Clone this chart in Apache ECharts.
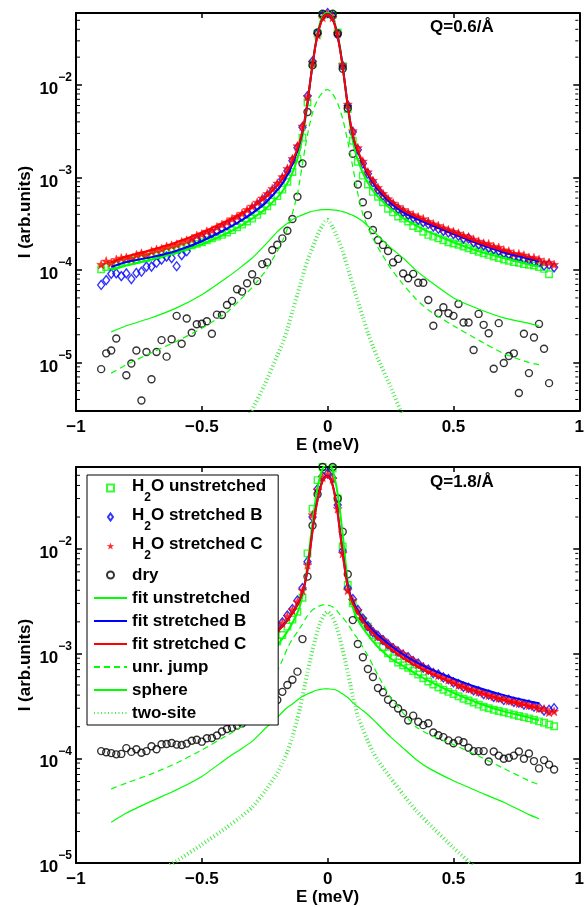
<!DOCTYPE html>
<html><head><meta charset="utf-8">
<script src="https://cdn.jsdelivr.net/npm/echarts@6/dist/echarts.min.js"></script>
<style>html,body{margin:0;padding:0;background:#fff}#c{width:587px;height:907px}</style>
</head><body><div id="c"></div><script>
// ---------- data ----------
const E = [-0.90,-0.88,-0.86,-0.84,-0.82,-0.80,-0.78,-0.76,-0.74,-0.72,-0.70,-0.68,-0.66,-0.64,-0.62,-0.60,-0.58,-0.56,-0.54,-0.52,
-0.50,-0.48,-0.46,-0.44,-0.42,-0.40,-0.38,-0.36,-0.34,-0.32,-0.30,-0.28,-0.26,-0.24,-0.22,-0.20,-0.18,-0.16,-0.14,-0.12,
-0.10,-0.08,-0.06,-0.04,-0.02,0.00,0.02,0.04,0.06,0.08,0.10,0.12,0.14,0.16,0.18,0.20,0.22,0.24,0.26,0.28,
0.30,0.32,0.34,0.36,0.38,0.40,0.42,0.44,0.46,0.48,0.50,0.52,0.54,0.56,0.58,0.60,0.62,0.64,0.66,0.68,
0.70,0.72,0.74,0.76,0.78,0.80,0.82,0.84,0.86,0.88,0.90];

// Q = 0.6 panel
const topDry = [8.5e-6,1.26e-5,1.35e-5,1.82e-5,2.6e-6,7.3e-6,9.8e-6,1.35e-5,3.9e-6,1.3e-5,
6.6e-6,1.3e-5,1.75e-5,1.16e-5,1.79e-5,3.2e-5,1.6e-5,3.0e-5,2.1e-5,2.6e-5,
2.63e-5,2.8e-5,2.05e-5,3.3e-5,3.27e-5,4.2e-5,4.65e-5,6.2e-5,5.85e-5,7.2e-5,
9.0e-5,7.6e-5,1.16e-4,1.21e-4,1.65e-4,1.88e-4,2.2e-4,2.66e-4,3.56e-4,6.2e-4,
1.42e-3,5.1e-3,1.63e-2,3.7e-2,5.9e-2,8.0e-2,5.9e-2,3.6e-2,1.5e-2,5.6e-3,
1.81e-3,8.4e-4,5.4e-4,3.93e-4,2.71e-4,2.11e-4,1.87e-4,1.61e-4,1.21e-4,1.32e-4,
9.2e-5,8.15e-5,9.1e-5,7.3e-5,7.3e-5,4.75e-5,2.5e-5,3.42e-5,3.97e-5,3.42e-5,
3.2e-5,4.3e-5,2.71e-5,2.71e-5,1.37e-5,3.36e-5,2.56e-5,2.08e-5,8.6e-6,2.67e-5,
9.9e-6,1.18e-5,1.26e-5,4.7e-6,2.05e-5,7.7e-6,1.87e-5,2.62e-5,1.41e-5,6.0e-6,
null];
const topC = [1.15e-4,1.25e-4,1.2e-4,1.3e-4,1.35e-4,1.37e-4,1.33e-4,1.46e-4,1.52e-4,1.47e-4,
1.6e-4,1.67e-4,1.7e-4,1.8e-4,1.85e-4,1.9e-4,2.02e-4,2.1e-4,2.18e-4,2.36e-4,
2.45e-4,2.62e-4,2.7e-4,2.92e-4,3.1e-4,3.3e-4,3.58e-4,3.8e-4,4.1e-4,4.5e-4,
4.9e-4,5.4e-4,6.0e-4,6.7e-4,7.6e-4,8.7e-4,1.02e-3,1.25e-3,1.6e-3,2.2e-3,
3.6e-3,7.5e-3,1.75e-2,3.5e-2,5.4e-2,5.9e-2,5.4e-2,3.6e-2,1.65e-2,6.2e-3,
3.2e-3,2.1e-3,1.5e-3,1.15e-3,9.3e-4,7.8e-4,6.7e-4,5.9e-4,5.3e-4,4.85e-4,
4.5e-4,4.2e-4,3.95e-4,3.75e-4,3.58e-4,3.35e-4,3.15e-4,3.02e-4,2.85e-4,2.72e-4,
2.6e-4,2.5e-4,2.36e-4,2.28e-4,2.15e-4,2.05e-4,1.95e-4,1.92e-4,1.8e-4,1.76e-4,
1.65e-4,1.6e-4,1.5e-4,1.5e-4,1.45e-4,1.37e-4,1.36e-4,1.3e-4,1.22e-4,1.21e-4,
1.15e-4];
const topB = [6.9e-5,7.8e-5,9.1e-5,9.2e-5,8.6e-5,9.2e-5,8.0e-5,9.3e-5,9.6e-5,1.09e-4,
1.09e-4,1.2e-4,1.3e-4,1.4e-4,1.35e-4,1.1e-4,1.45e-4,1.6e-4,1.95e-4,2.15e-4,
2.25e-4,2.4e-4,2.5e-4,2.65e-4,2.85e-4,3.05e-4,3.3e-4,3.5e-4,3.8e-4,4.15e-4,
4.55e-4,5.0e-4,5.6e-4,6.3e-4,7.1e-4,8.2e-4,9.6e-4,1.18e-3,1.52e-3,2.1e-3,
3.5e-3,7.6e-3,1.8e-2,3.6e-2,5.6e-2,6.0e-2,5.5e-2,3.5e-2,1.6e-2,6.0e-3,
3.1e-3,2.0e-3,1.42e-3,1.1e-3,8.9e-4,7.4e-4,6.4e-4,5.6e-4,5.05e-4,4.6e-4,
4.25e-4,3.95e-4,3.7e-4,3.5e-4,3.3e-4,3.15e-4,2.95e-4,2.8e-4,2.65e-4,2.55e-4,
2.45e-4,2.35e-4,2.2e-4,2.2e-4,2.0e-4,1.9e-4,1.85e-4,1.75e-4,1.68e-4,1.62e-4,
1.52e-4,1.48e-4,1.4e-4,1.38e-4,1.32e-4,1.3e-4,1.24e-4,1.22e-4,1.12e-4,1.15e-4,
1.07e-4];
const topU = [1.02e-4,1.08e-4,1.12e-4,1.15e-4,1.2e-4,1.22e-4,1.25e-4,1.3e-4,1.32e-4,1.35e-4,
1.4e-4,1.43e-4,1.48e-4,1.55e-4,1.6e-4,1.65e-4,1.72e-4,1.78e-4,1.85e-4,1.92e-4,
2.0e-4,2.1e-4,2.2e-4,2.3e-4,2.4e-4,2.55e-4,2.7e-4,2.9e-4,3.1e-4,3.35e-4,
3.6e-4,3.95e-4,4.4e-4,4.9e-4,5.5e-4,6.3e-4,7.4e-4,9.0e-4,1.15e-3,1.6e-3,
2.7e-3,6.5e-3,1.7e-2,3.6e-2,5.7e-2,6.2e-2,5.7e-2,3.7e-2,1.6e-2,5.5e-3,
2.5e-3,1.48e-3,1.05e-3,8.4e-4,7.0e-4,6.2e-4,5.4e-4,4.6e-4,4.2e-4,3.8e-4,
3.6e-4,3.35e-4,3.0e-4,2.85e-4,2.6e-4,2.4e-4,2.3e-4,2.2e-4,2.1e-4,2.0e-4,
1.94e-4,1.88e-4,1.8e-4,1.72e-4,1.65e-4,1.58e-4,1.52e-4,1.46e-4,1.4e-4,1.35e-4,
1.3e-4,1.26e-4,1.22e-4,1.2e-4,1.16e-4,1.14e-4,1.12e-4,1.08e-4,1.03e-4,9.0e-5,
null];

// Q = 1.8 panel
const botDry = [1.17e-4,1.14e-4,1.12e-4,1.09e-4,1.1e-4,1.25e-4,1.15e-4,1.22e-4,1.13e-4,1.17e-4,
1.3e-4,1.22e-4,1.36e-4,1.37e-4,1.4e-4,1.35e-4,1.34e-4,1.38e-4,1.47e-4,1.5e-4,
1.44e-4,1.55e-4,1.56e-4,1.65e-4,1.8e-4,1.9e-4,1.95e-4,2.05e-4,2.15e-4,2.3e-4,
2.4e-4,2.45e-4,2.5e-4,2.7e-4,3.1e-4,3.6e-4,4.3e-4,5.0e-4,5.6e-4,6.7e-4,
1.37e-3,5.4e-3,1.66e-2,3.3e-2,6.0e-2,8.0e-2,6.0e-2,3.0e-2,1.45e-2,5.7e-3,
2.08e-3,1.23e-3,9.2e-4,7.1e-4,5.95e-4,4.68e-4,4.26e-4,3.62e-4,3.3e-4,2.98e-4,
2.69e-4,2.29e-4,2.55e-4,2.23e-4,2.07e-4,2.16e-4,1.76e-4,1.66e-4,1.59e-4,1.48e-4,
1.39e-4,1.48e-4,1.42e-4,1.26e-4,1.17e-4,1.17e-4,1.17e-4,9.3e-5,1.16e-4,1.06e-4,
9.9e-5,1.01e-4,1.06e-4,1.16e-4,9.9e-5,1.11e-4,9.4e-5,8.0e-5,9.6e-5,8.7e-5,
7.8e-5];
const botC = [3.3e-4,3.35e-4,3.45e-4,3.5e-4,3.6e-4,3.7e-4,3.8e-4,3.9e-4,4.0e-4,4.1e-4,
4.25e-4,4.4e-4,4.5e-4,4.65e-4,4.8e-4,5.0e-4,5.2e-4,5.4e-4,5.6e-4,5.9e-4,
6.2e-4,6.5e-4,6.9e-4,7.3e-4,7.8e-4,8.3e-4,9.0e-4,9.6e-4,1.03e-3,1.1e-3,
1.18e-3,1.27e-3,1.37e-3,1.48e-3,1.6e-3,1.75e-3,1.95e-3,2.25e-3,2.6e-3,3.1e-3,
4.0e-3,7.0e-3,2.1e-2,3.6e-2,4.8e-2,5.1e-2,4.6e-2,2.4e-2,9.0e-3,4.0e-3,
3.2e-3,2.55e-3,2.12e-3,1.8e-3,1.62e-3,1.45e-3,1.35e-3,1.22e-3,1.14e-3,1.05e-3,
9.9e-4,9.1e-4,8.6e-4,7.9e-4,7.5e-4,6.9e-4,6.6e-4,6.2e-4,5.95e-4,5.6e-4,
5.35e-4,5.0e-4,4.85e-4,4.6e-4,4.5e-4,4.3e-4,4.2e-4,4.0e-4,3.9e-4,3.75e-4,
3.7e-4,3.55e-4,3.5e-4,3.35e-4,3.35e-4,3.2e-4,3.15e-4,3.0e-4,2.95e-4,2.75e-4,
2.8e-4];
const botB = [3.4e-4,3.45e-4,3.5e-4,3.6e-4,3.7e-4,3.8e-4,3.9e-4,4.0e-4,4.1e-4,4.2e-4,
4.35e-4,4.5e-4,4.6e-4,4.75e-4,4.9e-4,5.1e-4,5.3e-4,5.5e-4,5.7e-4,6.0e-4,
6.3e-4,6.6e-4,7.0e-4,7.4e-4,7.9e-4,8.4e-4,9.1e-4,9.7e-4,1.04e-3,1.12e-3,
1.2e-3,1.29e-3,1.39e-3,1.5e-3,1.62e-3,1.78e-3,1.98e-3,2.3e-3,2.65e-3,3.2e-3,
4.2e-3,7.5e-3,2.0e-2,3.7e-2,4.9e-2,5.2e-2,4.7e-2,2.6e-2,9.5e-3,4.2e-3,
3.3e-3,2.6e-3,2.15e-3,1.82e-3,1.6e-3,1.47e-3,1.34e-3,1.22e-3,1.12e-3,1.04e-3,
9.7e-4,9.2e-4,8.4e-4,8.0e-4,7.3e-4,7.0e-4,6.5e-4,6.3e-4,5.9e-4,5.7e-4,
5.3e-4,5.1e-4,4.8e-4,4.7e-4,4.45e-4,4.35e-4,4.1e-4,4.05e-4,3.85e-4,3.8e-4,
3.6e-4,3.6e-4,3.45e-4,3.4e-4,3.25e-4,3.25e-4,3.1e-4,3.05e-4,2.85e-4,2.9e-4,
3.0e-4];
const botU = [2.6e-4,2.65e-4,2.7e-4,2.75e-4,2.8e-4,2.85e-4,2.9e-4,2.95e-4,3.0e-4,3.1e-4,
3.2e-4,3.3e-4,3.4e-4,3.5e-4,3.6e-4,3.7e-4,3.85e-4,4.0e-4,4.15e-4,4.3e-4,
4.5e-4,4.7e-4,4.95e-4,5.2e-4,5.5e-4,5.8e-4,6.1e-4,6.5e-4,6.9e-4,7.4e-4,
7.9e-4,8.5e-4,9.2e-4,1.0e-3,1.15e-3,1.3e-3,1.5e-3,1.8e-3,2.1e-3,2.5e-3,
3.4e-3,9.0e-3,2.4e-2,4.5e-2,6.0e-2,6.5e-2,5.8e-2,3.0e-2,1.05e-2,4.5e-3,
3.0e-3,2.35e-3,2.05e-3,1.8e-3,1.5e-3,1.35e-3,1.15e-3,1.0e-3,9.0e-4,8.2e-4,
7.7e-4,7.3e-4,6.8e-4,6.3e-4,5.8e-4,5.4e-4,5.05e-4,4.75e-4,4.5e-4,4.3e-4,
4.1e-4,3.9e-4,3.7e-4,3.55e-4,3.4e-4,3.25e-4,3.1e-4,3.0e-4,2.9e-4,2.82e-4,
2.75e-4,2.68e-4,2.6e-4,2.53e-4,2.47e-4,2.4e-4,2.33e-4,2.25e-4,2.18e-4,2.1e-4,
2.02e-4];

// model curves
const fE = [-0.86,-0.8,-0.7,-0.6,-0.5,-0.4,-0.35,-0.3,-0.25,-0.2,
-0.18,-0.16,-0.14,-0.12,-0.11,-0.1,-0.09,-0.08,-0.07,-0.06,
-0.05,-0.04,-0.03,-0.02,-0.01,0,0.01,0.02,0.03,0.04,
0.05,0.06,0.07,0.08,0.09,0.1,0.11,0.12,0.14,0.16,
0.18,0.2,0.25,0.3,0.35,0.4,0.5,0.6,0.7,0.8,0.84];

const topFitU = [1.0e-4,1.12e-4,1.3e-4,1.55e-4,1.9e-4,2.5e-4,2.95e-4,3.6e-4,4.5e-4,6.1e-4,
7.1e-4,8.7e-4,1.12e-3,1.6e-3,2.05e-3,2.75e-3,4.0e-3,6.2e-3,1.04e-2,1.68e-2,
2.6e-2,3.65e-2,4.7e-2,5.5e-2,5.95e-2,6.05e-2,5.9e-2,5.3e-2,4.5e-2,3.45e-2,
2.45e-2,1.58e-2,9.5e-3,5.7e-3,3.6e-3,2.5e-3,1.9e-3,1.55e-3,1.12e-3,8.8e-4,
7.2e-4,6.2e-4,4.6e-4,3.65e-4,3.05e-4,2.6e-4,2.0e-4,1.6e-4,1.35e-4,1.15e-4,1.1e-4];
const topFitB = [1.08e-4,1.22e-4,1.38e-4,1.62e-4,2.05e-4,2.8e-4,3.35e-4,4.1e-4,5.2e-4,7.3e-4,
8.6e-4,1.07e-3,1.4e-3,1.95e-3,2.4e-3,3.1e-3,4.3e-3,6.4e-3,1.05e-2,1.66e-2,
2.52e-2,3.48e-2,4.45e-2,5.25e-2,5.75e-2,5.85e-2,5.7e-2,5.15e-2,4.35e-2,3.35e-2,
2.4e-2,1.58e-2,9.7e-3,6.0e-3,3.95e-3,2.85e-3,2.25e-3,1.9e-3,1.4e-3,1.08e-3,
8.8e-4,7.4e-4,5.3e-4,4.2e-4,3.6e-4,3.15e-4,2.45e-4,1.92e-4,1.55e-4,1.32e-4,1.24e-4];
const topFitC = [1.22e-4,1.4e-4,1.65e-4,2.0e-4,2.55e-4,3.4e-4,4.0e-4,4.8e-4,6.0e-4,8.2e-4,
9.6e-4,1.17e-3,1.5e-3,2.05e-3,2.5e-3,3.2e-3,4.4e-3,6.5e-3,1.05e-2,1.65e-2,
2.5e-2,3.45e-2,4.4e-2,5.2e-2,5.7e-2,5.8e-2,5.65e-2,5.1e-2,4.3e-2,3.3e-2,
2.35e-2,1.55e-2,9.6e-3,6.0e-3,4.0e-3,2.9e-3,2.3e-3,1.95e-3,1.45e-3,1.12e-3,
9.2e-4,7.8e-4,5.6e-4,4.45e-4,3.8e-4,3.3e-4,2.55e-4,2.0e-4,1.62e-4,1.38e-4,1.28e-4];
const topJump = [7.7e-6,9.5e-6,1.28e-5,1.7e-5,2.35e-5,3.5e-5,4.7e-5,6.5e-5,9.5e-5,1.6e-4,
2.05e-4,2.8e-4,4.1e-4,6.6e-4,9.5e-4,1.4e-3,2.05e-3,2.9e-3,3.9e-3,5.0e-3,
6.0e-3,6.9e-3,7.7e-3,8.3e-3,8.8e-3,8.9e-3,8.6e-3,8.0e-3,7.2e-3,6.3e-3,
5.3e-3,4.3e-3,3.3e-3,2.45e-3,1.8e-3,1.3e-3,9.3e-4,6.7e-4,4.0e-4,2.9e-4,
2.2e-4,1.75e-4,1.05e-4,7.0e-5,4.9e-5,3.7e-5,2.5e-5,1.75e-5,1.25e-5,1.0e-5,9.5e-6];
const topSphere = [2.15e-5,2.5e-5,3.05e-5,3.9e-5,5.4e-5,8.3e-5,1.05e-4,1.35e-4,1.85e-4,2.6e-4,
2.9e-4,3.2e-4,3.5e-4,3.75e-4,3.85e-4,3.95e-4,4.05e-4,4.15e-4,4.25e-4,4.32e-4,
4.38e-4,4.43e-4,4.47e-4,4.5e-4,4.5e-4,4.5e-4,4.5e-4,4.48e-4,4.45e-4,4.4e-4,
4.35e-4,4.28e-4,4.2e-4,4.1e-4,4.0e-4,3.9e-4,3.78e-4,3.65e-4,3.35e-4,3.0e-4,
2.7e-4,2.35e-4,1.75e-4,1.35e-4,1.0e-4,7.8e-5,5.0e-5,3.8e-5,3.05e-5,2.65e-5,2.5e-5];
const topTwo = [1e-8,1.5e-8,4e-8,1.2e-7,3.5e-7,1.0e-6,1.7e-6,3.1e-6,5.8e-6,1.2e-5,
1.6e-5,2.3e-5,3.6e-5,5.5e-5,6.8e-5,8.5e-5,1.05e-4,1.27e-4,1.5e-4,1.75e-4,
2.05e-4,2.4e-4,2.75e-4,3.05e-4,3.35e-4,3.5e-4,3.25e-4,2.9e-4,2.55e-4,2.2e-4,
1.9e-4,1.6e-4,1.3e-4,1.05e-4,8.5e-5,7.0e-5,5.6e-5,4.6e-5,3.1e-5,2.1e-5,
1.5e-5,1.1e-5,5.5e-6,2.6e-6,1.3e-6,6.5e-7,1.6e-7,4e-8,1e-8,3e-9,2e-9];

const botFitU = [2.6e-4,2.8e-4,3.2e-4,3.7e-4,4.5e-4,5.5e-4,6.2e-4,7.3e-4,8.9e-4,1.2e-3,
1.38e-3,1.62e-3,1.95e-3,2.45e-3,2.85e-3,3.5e-3,4.7e-3,7.0e-3,1.12e-2,1.78e-2,
2.7e-2,3.8e-2,4.9e-2,5.8e-2,6.3e-2,6.5e-2,6.3e-2,5.6e-2,4.5e-2,3.3e-2,
2.2e-2,1.35e-2,7.8e-3,4.8e-3,3.4e-3,2.75e-3,2.35e-3,2.1e-3,1.75e-3,1.5e-3,
1.3e-3,1.15e-3,9.0e-4,7.6e-4,6.4e-4,5.5e-4,4.2e-4,3.35e-4,2.8e-4,2.45e-4,2.3e-4];
const botFitB = [3.05e-4,3.35e-4,3.95e-4,4.75e-4,5.85e-4,7.6e-4,8.9e-4,1.04e-3,1.27e-3,1.62e-3,
1.82e-3,2.07e-3,2.42e-3,2.92e-3,3.3e-3,3.8e-3,4.7e-3,6.3e-3,9.6e-3,1.5e-2,
2.2e-2,2.95e-2,3.75e-2,4.45e-2,4.85e-2,4.95e-2,4.7e-2,4.05e-2,3.15e-2,2.2e-2,
1.42e-2,9.0e-3,6.1e-3,4.5e-3,3.65e-3,3.15e-3,2.8e-3,2.55e-3,2.15e-3,1.87e-3,
1.66e-3,1.5e-3,1.19e-3,9.8e-4,8.3e-4,7.25e-4,5.75e-4,4.7e-4,4.0e-4,3.5e-4,3.35e-4];
const botFitC = [3.0e-4,3.3e-4,3.9e-4,4.7e-4,5.8e-4,7.5e-4,8.8e-4,1.03e-3,1.25e-3,1.6e-3,
1.8e-3,2.05e-3,2.4e-3,2.9e-3,3.3e-3,3.8e-3,4.7e-3,6.3e-3,9.5e-3,1.48e-2,
2.15e-2,2.9e-2,3.7e-2,4.4e-2,4.8e-2,4.9e-2,4.65e-2,4.0e-2,3.1e-2,2.15e-2,
1.38e-2,8.8e-3,5.9e-3,4.3e-3,3.5e-3,3.0e-3,2.7e-3,2.45e-3,2.05e-3,1.78e-3,
1.57e-3,1.4e-3,1.1e-3,9.0e-4,7.6e-4,6.6e-4,5.2e-4,4.25e-4,3.6e-4,3.15e-4,3.0e-4];
const botJump = [5.1e-5,5.8e-5,7.1e-5,9.0e-5,1.2e-4,1.65e-4,1.95e-4,2.4e-4,3.6e-4,6.8e-4,
8.6e-4,1.12e-3,1.38e-3,1.6e-3,1.75e-3,1.9e-3,2.1e-3,2.3e-3,2.45e-3,2.6e-3,
2.7e-3,2.8e-3,2.85e-3,2.9e-3,2.9e-3,2.88e-3,2.85e-3,2.78e-3,2.7e-3,2.5e-3,
2.35e-3,2.2e-3,2.05e-3,1.9e-3,1.75e-3,1.6e-3,1.48e-3,1.38e-3,1.15e-3,9.5e-4,
7.7e-4,6.2e-4,3.8e-4,2.7e-4,2.0e-4,1.7e-4,1.35e-4,1.05e-4,8.0e-5,6.1e-5,5.6e-5];
const botSphere = [2.45e-5,3.0e-5,3.9e-5,5.0e-5,6.7e-5,1.0e-4,1.2e-4,1.45e-4,1.9e-4,2.45e-4,
2.75e-4,3.05e-4,3.3e-4,3.6e-4,3.75e-4,3.9e-4,4.0e-4,4.1e-4,4.2e-4,4.3e-4,
4.4e-4,4.48e-4,4.53e-4,4.58e-4,4.6e-4,4.6e-4,4.58e-4,4.55e-4,4.5e-4,4.4e-4,
4.25e-4,4.1e-4,3.95e-4,3.8e-4,3.6e-4,3.4e-4,3.25e-4,3.1e-4,2.85e-4,2.6e-4,
2.35e-4,2.1e-4,1.6e-4,1.25e-4,9.8e-5,8.1e-5,6.1e-5,4.8e-5,3.8e-5,2.9e-5,2.65e-5];
const botTwo = [4.8e-6,5.5e-6,7.5e-6,1.05e-5,1.5e-5,2.2e-5,2.7e-5,3.4e-5,4.8e-5,7.2e-5,
9.0e-5,1.15e-4,1.6e-4,2.4e-4,3.0e-4,3.9e-4,5.1e-4,6.6e-4,8.5e-4,1.08e-3,
1.35e-3,1.65e-3,1.95e-3,2.2e-3,2.4e-3,2.5e-3,2.4e-3,2.2e-3,1.95e-3,1.65e-3,
1.35e-3,1.08e-3,8.5e-4,6.6e-4,5.1e-4,3.9e-4,3.1e-4,2.5e-4,1.9e-4,1.45e-4,
1.15e-4,9.5e-5,6.5e-5,4.5e-5,3.2e-5,2.4e-5,1.4e-5,8.5e-6,5.5e-6,4.0e-6,3.5e-6];

// axes
const xTicks = [-1, -0.5, 0, 0.5, 1];
const topYRange = [3e-6, 0.06];
const botYRange = [1e-5, 0.06];
const topMinor = [4e-6,5e-6,6e-6,7e-6,8e-6,9e-6,2e-5,3e-5,4e-5,5e-5,6e-5,7e-5,8e-5,9e-5,
2e-4,3e-4,4e-4,5e-4,6e-4,7e-4,8e-4,9e-4,2e-3,3e-3,4e-3,5e-3,6e-3,7e-3,8e-3,9e-3,2e-2,3e-2,4e-2,5e-2];
const botMinor = [2e-5,3e-5,4e-5,5e-5,6e-5,7e-5,8e-5,9e-5,
2e-4,3e-4,4e-4,5e-4,6e-4,7e-4,8e-4,9e-4,2e-3,3e-3,4e-3,5e-3,6e-3,7e-3,8e-3,9e-3,2e-2,3e-2,4e-2,5e-2];
const names = ['H2O unstretched','H2O stretched B','H2O stretched C','dry','fit unstretched',
'fit stretched B','fit stretched C','unr. jump','sphere','two-site'];
const qLabels = ['Q=0.6/Å', 'Q=1.8/Å'];

// ---------- chart ----------
const FONT = '"Liberation Sans", Arial, Helvetica, sans-serif';
const GREEN = '#00ff00', BLUE = '#0000ff', RED = '#ff0000', DOT = '#4fe84f';
const STAR = 'path://M0,-10L2.35,-3.24L9.51,-3.09L3.8,1.24L5.88,8.09L0,4L-5.88,8.09L-3.8,1.24L-9.51,-3.09L-2.35,-3.24Z';
const SQUARE = 'path://M0,0L10,0L10,10L0,10Z';
const DIAMOND = 'path://M5,0L10,7L5,14L0,7Z';
const NONE = 'rgba(255,255,255,0)';
const grids = [{left:76, top:13, width:506, height:398}, {left:76, top:467, width:506, height:399}];

function pts(xs, ys){ const o=[]; for(let i=0;i<xs.length;i++){ if(ys[i]!=null) o.push([xs[i], ys[i]]); } return o; }
const boldTxt = {fontFamily:FONT, fontWeight:'bold', fontSize:17, color:'#000'};

function xAxes(gi){
  return [
    {type:'value', gridIndex:gi, min:xTicks[0], max:xTicks[xTicks.length-1], interval:0.5, position:'bottom',
     axisLine:{onZero:false, lineStyle:{color:'#000', width:2}},
     axisTick:{inside:true, length:5, lineStyle:{color:'#000', width:1.5}},
     axisLabel:Object.assign({margin:8, formatter:v => (v<0?'\u2212':'') + Math.abs(v)}, boldTxt),
     splitLine:{show:false},
     name:'E (meV)', nameLocation:'middle', nameGap:24, nameTextStyle:boldTxt},
    {type:'value', gridIndex:gi, min:xTicks[0], max:xTicks[xTicks.length-1], interval:0.5, position:'top',
     axisLine:{onZero:false, lineStyle:{color:'#000', width:2}},
     axisTick:{inside:true, length:5, lineStyle:{color:'#000', width:1.5}},
     axisLabel:{show:false}, splitLine:{show:false}}
  ];
}
function logLabel(v){
  const e = Math.log10(v), r = Math.round(e);
  if (Math.abs(e - r) > 1e-6) return '';
  return '{b|10}{s|' + (r < 0 ? '\u2212' : '') + Math.abs(r) + '}';
}
function yAxes(gi, range){
  return [
    {type:'log', gridIndex:gi, min:range[0], max:range[1], position:'left',
     axisLine:{onZero:false, lineStyle:{color:'#000', width:2}},
     axisTick:{inside:true, length:6, lineStyle:{color:'#000', width:1.5}},
     axisLabel:{margin:4, formatter:logLabel, rich:{
        b:{fontFamily:FONT, fontWeight:'bold', fontSize:17, color:'#000', lineHeight:26, verticalAlign:'bottom'},
        s:{fontFamily:FONT, fontWeight:'bold', fontSize:12, color:'#000', lineHeight:12, verticalAlign:'top'}}},
     splitLine:{show:false}, minorTick:{show:false},
     name:'I (arb.units)', nameLocation:'middle', nameRotate:90, nameGap:42, nameMoveOverlap:false, nameTextStyle:boldTxt},
    {type:'log', gridIndex:gi, min:range[0], max:range[1], position:'right',
     axisLine:{onZero:false, lineStyle:{color:'#000', width:2}},
     axisTick:{inside:true, length:6, lineStyle:{color:'#000', width:1.5}},
     axisLabel:{show:false}, splitLine:{show:false}}
  ];
}

function minorSeries(k, vals){
  return {type:'custom', xAxisIndex:2*k, yAxisIndex:2*k, silent:true, clip:false, z:5,
    data: vals.map(v => [0, v]), encode:{x:0, y:1},
    renderItem(params, api){
      const v = api.value(1);
      const p = api.coord([xTicks[0], v]), q = api.coord([xTicks[xTicks.length-1], v]);
      const st = {stroke:'#000', lineWidth:1};
      return {type:'group', children:[
        {type:'line', shape:{x1:p[0]+1, y1:p[1], x2:p[0]+4, y2:p[1]}, style:st},
        {type:'line', shape:{x1:q[0]-4, y1:q[1], x2:q[0]-1, y2:q[1]}, style:st}]};
    }};
}

function panel(k, d){
  const ax = {xAxisIndex:2*k, yAxisIndex:2*k};
  const hollow = (c) => ({color:NONE, borderColor:c, borderWidth:1.4});
  const ln = (name, ys, style) => ({name, type:'line', ...ax, data:pts(fE, ys),
      symbol:'none', showSymbol:false, smooth:0.15, lineStyle:style,
      itemStyle:{color:style.color}, emphasis:{disabled:true}, z:3});
  return [
    {name:names[0], type:'scatter', ...ax, data:pts(E, d.U), symbol:'rect', symbolSize:6.5, itemStyle:hollow(GREEN), z:2},
    {name:names[1], type:'scatter', ...ax, data:pts(E, d.B), symbol:'diamond', symbolSize:[7,9], itemStyle:hollow(BLUE), z:2},
    {name:names[2], type:'scatter', ...ax, data:pts(E, d.C), symbol:STAR, symbolSize:9, itemStyle:{color:RED, borderColor:RED, borderWidth:0.5}, z:2},
    {name:names[3], type:'scatter', ...ax, data:pts(E, d.D), symbol:'circle', symbolSize:7, itemStyle:hollow('#000'), z:2},
    ln(names[4], d.fU, {color:GREEN, width:2}),
    ln(names[5], d.fB, {color:BLUE, width:2}),
    ln(names[6], d.fC, {color:RED, width:2}),
    ln(names[7], d.j, {color:GREEN, width:1.2, type:[6,4]}),
    ln(names[8], d.s, {color:GREEN, width:1.2}),
    ln(names[9], d.t, {color:DOT, width:4, type:[1,2.5], cap:'butt'}),
  ];
}

const hideSym = {opacity:0};
const legendData = [
  {name:names[0], icon:SQUARE},
  {name:names[1], icon:DIAMOND},
  {name:names[2], icon:STAR, itemStyle:{borderWidth:0}},
  {name:names[3], icon:'circle'},
  {name:names[4], itemStyle:hideSym},
  {name:names[5], itemStyle:hideSym},
  {name:names[6], itemStyle:hideSym},
  {name:names[7], itemStyle:hideSym},
  {name:names[8], itemStyle:hideSym},
  {name:names[9], itemStyle:hideSym}
];

const chart = echarts.init(document.getElementById('c'), null, {renderer:'canvas'});
chart.setOption({
  animation:false,
  backgroundColor:'#fff',
  grid: grids,
  xAxis: [...xAxes(0), ...xAxes(1)],
  yAxis: [...yAxes(0, topYRange), ...yAxes(1, botYRange)],
  legend: {
    data: legendData, orient:'vertical', left:87, top:475,
    padding:[3,12,2,6], itemGap:3, itemWidth:33, itemHeight:7, symbolKeepAspect:true,
    backgroundColor:'#fff', borderColor:'#000', borderWidth:1, selectedMode:false,
    textStyle:{fontFamily:FONT, fontWeight:'bold', fontSize:17, color:'#000', lineHeight:20,
      rich:{
        t:{fontFamily:FONT, fontWeight:'bold', fontSize:17, color:'#000', lineHeight:20, verticalAlign:'top'},
        sub:{fontFamily:FONT, fontWeight:'bold', fontSize:12, color:'#000', lineHeight:12, padding:[14,0,0,0], verticalAlign:'top'}}},
    formatter: n => n.indexOf('H2O') === 0 ? '{t|H}{sub|2}{t|O' + n.slice(3) + '}' : n,
    z:10
  },
  graphic: [
    {type:'text', left:430, top:19, style:{text:qLabels[0], font:'bold 17px ' + FONT, fill:'#000'}},
    {type:'text', left:430, top:474, style:{text:qLabels[1], font:'bold 17px ' + FONT, fill:'#000'}}
  ],
  series: [
    ...panel(0, {U:topU, B:topB, C:topC, D:topDry, fU:topFitU, fB:topFitB, fC:topFitC, j:topJump, s:topSphere, t:topTwo}),
    ...panel(1, {U:botU, B:botB, C:botC, D:botDry, fU:botFitU, fB:botFitB, fC:botFitC, j:botJump, s:botSphere, t:botTwo}),
    minorSeries(0, topMinor), minorSeries(1, botMinor)
  ]
});
</script></body></html>
